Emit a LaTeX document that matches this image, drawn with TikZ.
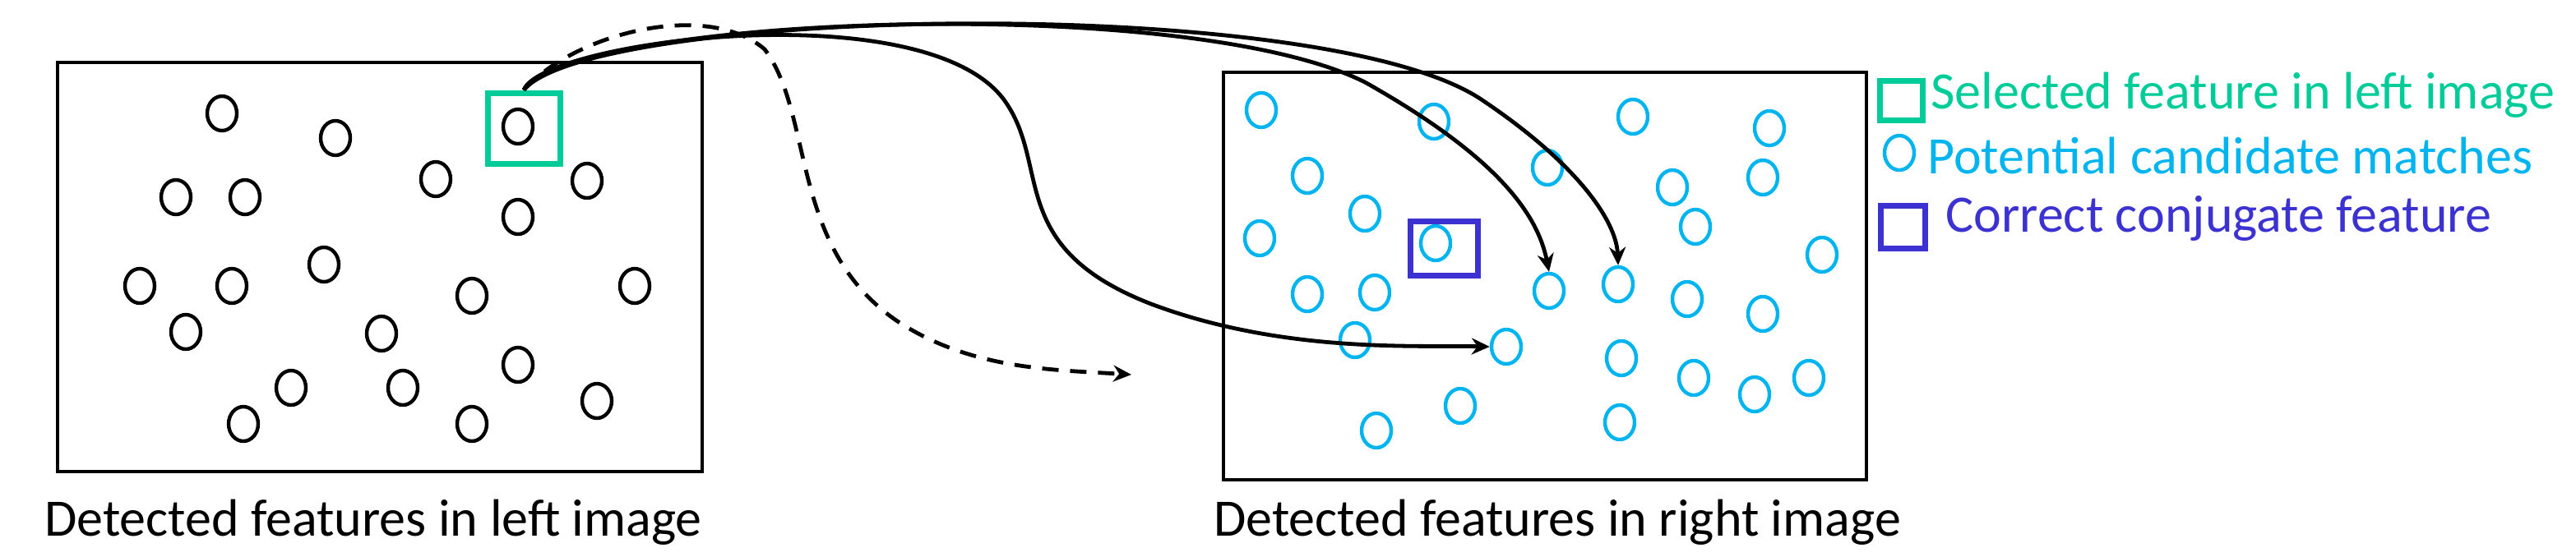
\documentclass[tikz,border=0pt]{standalone}
\usepackage{fontspec}
\setmainfont{Carlito}
\usetikzlibrary{arrows.meta,shapes.geometric}
\begin{document}
\begin{tikzpicture}[x=1pt,y=-1pt,
  feat/.style={draw,ellipse,line width=2.2pt,minimum width=18pt,minimum height=21pt,inner sep=0pt},
  conn/.style={line width=2.4pt,-{Stealth[length=11pt,width=10pt]}},
  lbl/.style={font=\fontsize{32}{35}\selectfont,anchor=west,inner sep=0pt}]
\definecolor{selg}{RGB}{0,204,153}
\definecolor{candc}{RGB}{0,180,240}
\definecolor{corr}{RGB}{60,50,210}
\tikzset{cand/.style={feat,draw=candc}}
\useasboundingbox (0,0) rectangle (1566.5,338.5);
\draw[line width=2pt] (35,38) rectangle (427,287);
\draw[line width=2pt] (744,44) rectangle (1135,292);
\foreach \x/\y [count=\i] in {135/69,204/84,107/120,149/120,265/109,357/110,315/132,197/161,85/174,141/174,386/174,287/180,113/202,232/203,315/222,177/236,245/236,363/244,148/258,287/258}
  \node[feat] (l\i) at (\x,\y) {};
\node[feat] (sel) at (315,77) {};
\node[draw=selg,line width=3.5pt,minimum width=44pt,minimum height=43pt,inner sep=0pt] (selbox) at (318.5,78) {};
\foreach \x/\y [count=\i] in {767/67,872/74,993/71,1076/78,795/107,941/102,1017/114,1072/108,830/130,1031/138,766/145,1108/155,795/179,836/178,1026/182,1072/191,824/207,986/218,1030/230,1067/240,1100/230,888/247,985/257,837/262}
  \node[cand] (r\i) at (\x,\y) {};
\node[cand] (ta) at (942,177) {};
\node[cand] (tb) at (984,173) {};
\node[cand] (tc) at (916,211) {};
\node[cand] (cc) at (873,148) {};
\node[draw=corr,line width=3.5pt,minimum width=41pt,minimum height=33pt,inner sep=0pt] (cbox) at (878,151) {};
\coordinate (s) at (selbox.north);
\draw[conn] (s) .. controls (330,25) and (560,-5) .. (610,60) .. controls (640,100) and (610,150) .. (700,185) .. controls (780,215) and (860,210) .. (tc.west);
\draw[conn] (s) .. controls (350,10) and (720,-5) .. (830,50) .. controls (910,95) and (935,130) .. (ta.north);
\draw[conn] (s) .. controls (360,5) and (800,-5) .. (900,60) .. controls (960,100) and (983,135) .. (tb.north);
\coordinate (d) at (688,228);
\draw[conn,dashed,dash pattern=on 10pt off 7pt] (s) .. controls (350,20) and (430,0) .. (465,30) .. controls (495,70) and (480,150) .. (545,195) .. controls (590,225) and (640,225) .. (d);
\node[lbl,anchor=center] (ll) at (227,318) {Detected features in left image};
\node[lbl,anchor=center] (rl) at (947,318) {Detected features in right image};
\node[draw=selg,line width=3.5pt,minimum width=26pt,minimum height=24pt,inner sep=0pt] (k1) at (1156,61) {};
\node[lbl,text=selg] (t1) at (1174,58) {Selected feature in left image};
\node[cand] (k2) at (1155,93) {};
\node[lbl,text=candc] (t2) at (1172,95) {Potential candidate matches};
\node[draw=corr,line width=3.5pt,minimum width=27pt,minimum height=26pt,inner sep=0pt] (k3) at (1157,138) {};
\node[lbl,text=corr] (t3) at (1183,133) {Correct conjugate feature};
\end{tikzpicture}
\end{document}
